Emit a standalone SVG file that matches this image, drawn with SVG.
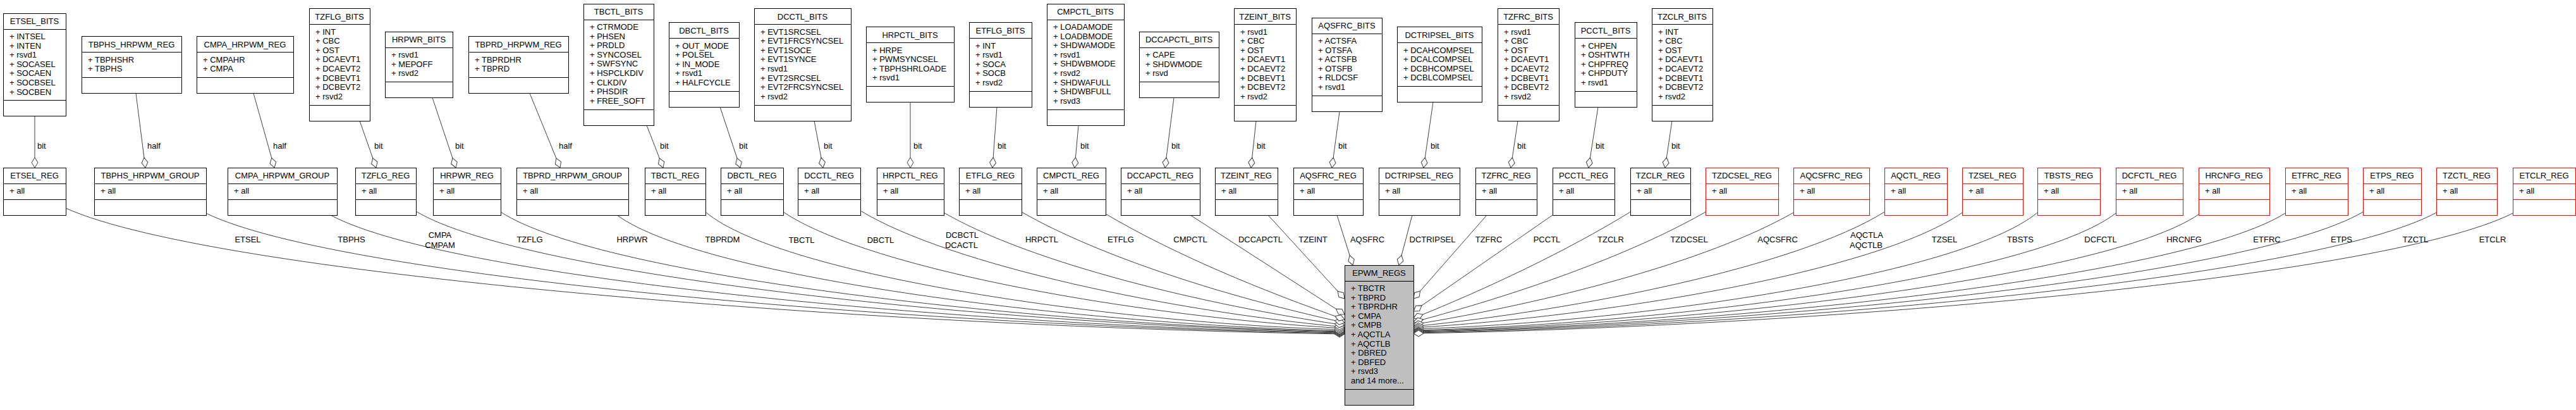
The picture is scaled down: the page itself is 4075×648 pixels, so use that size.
<svg xmlns="http://www.w3.org/2000/svg" width="4075" height="648" viewBox="0 0 4075 648">
<style>
text{font-family:"Liberation Sans",Arial,Helvetica,sans-serif;font-size:13px;fill:#000}
.c{text-anchor:middle}
.b{fill:#fff;stroke:#000;stroke-width:1;shape-rendering:crispEdges}
.r{fill:#fff;stroke:#f00;stroke-width:1;shape-rendering:crispEdges}
.m{fill:#bfbfbf;stroke:#000;stroke-width:1;shape-rendering:crispEdges}
.s{fill:none;stroke:#000;stroke-width:1;shape-rendering:crispEdges}
.sr{fill:none;stroke:#f00;stroke-width:1;shape-rendering:crispEdges}
.e{fill:none;stroke:#404040;stroke-width:1;marker-end:url(#d)}
</style>
<defs>
<marker id="d" markerUnits="userSpaceOnUse" orient="auto" refX="0" refY="0" markerWidth="18" markerHeight="12" overflow="visible">
<path d="M0,0 L-8,-5 L-16,0 L-8,5 Z" fill="#fff" stroke="#404040" stroke-width="1"/>
</marker>
</defs>
<rect width="4075" height="648" fill="#fff"/>

<g id="connectors">
<path class="e" d="M55,183.5 L55,265"/>
<path class="e" d="M215,147.5 L230,265"/>
<path class="e" d="M401,147.5 L434,265"/>
<path class="e" d="M569,191 L595,265"/>
<path class="e" d="M684,154.5 L721,265"/>
<path class="e" d="M838,147.5 L886,265"/>
<path class="e" d="M1023,198 L1049,265"/>
<path class="e" d="M1139,169 L1171,265"/>
<path class="e" d="M1288,191 L1302,265"/>
<path class="e" d="M1440,161.5 L1440,265"/>
<path class="e" d="M1577,169 L1570,265"/>
<path class="e" d="M1706,198 L1700,265"/>
<path class="e" d="M1857,154.5 L1843,265"/>
<path class="e" d="M1987,191 L1979,265"/>
<path class="e" d="M2119,176.5 L2107,265"/>
<path class="e" d="M2267,161.5 L2252,265"/>
<path class="e" d="M2401,191 L2390,265"/>
<path class="e" d="M2528,169 L2513,265"/>
<path class="e" d="M2645,191 L2634,265"/>

<path class="e" d="M104,329 C347,438 1419,518 2127,528"/>
<path class="e" d="M326,337 C542,442 1497,517 2127,527"/>
<path class="e" d="M523,340 C715,443 1566,517 2127,526"/>
<path class="e" d="M658,334 C834,439 1613,515 2127,525"/>
<path class="e" d="M792,335 C952,439 1660,515 2127,524"/>
<path class="e" d="M976,340 C1114,441 1724,514 2127,523"/>
<path class="e" d="M1116,335 C1237,437 1773,512 2127,521"/>
<path class="e" d="M1239,335 C1378,428 1816,502 2127,519"/>
<path class="e" d="M1361,333 C1505,420 1859,493 2127,517"/>
<path class="e" d="M1493,336 C1631,416 1905,482 2127,514"/>
<path class="e" d="M1616,335 C1744,408 1948,471 2127,510"/>
<path class="e" d="M1749,338 C1857,402 1998,460 2127,505"/>
<path class="e" d="M1883,340 L2127,497"/>
<path class="e" d="M2006,340 L2127,472"/>
<path class="e" d="M2115,340 L2140,419"/>
<path class="e" d="M2234,340 L2213,419"/>
<path class="e" d="M2352,340 L2236,472"/>
<path class="e" d="M2456,340 L2236,492"/>
<path class="e" d="M2579,335 C2478,397 2353,456 2236,503"/>
<path class="e" d="M2698,335 C2576,405 2395,467 2236,509"/>
<path class="e" d="M2837,336 C2701,414 2446,479 2236,513"/>
<path class="e" d="M2981,335 C2841,422 2497,490 2236,516"/>
<path class="e" d="M3104,336 C2969,430 2540,500 2236,518"/>
<path class="e" d="M3223,336 C3101,436 2581,510 2236,520"/>
<path class="e" d="M3347,337 C3214,439 2625,513 2236,522"/>
<path class="e" d="M3478,339 C3329,440 2671,514 2236,523"/>
<path class="e" d="M3615,337 C3450,440 2719,515 2236,524"/>
<path class="e" d="M3738,335 C3558,440 2762,515 2236,525"/>
<path class="e" d="M3854,336 C3660,441 2802,516 2236,526"/>
<path class="e" d="M3975,337 C3766,442 2845,517 2236,527"/>

<g id="bit-labels">
<text x="59" y="234.5">bit</text>
<text x="233" y="234.5">half</text>
<text x="432" y="234.5">half</text>
<text x="592" y="234.5">bit</text>
<text x="720" y="234.5">bit</text>
<text x="884" y="234.5">half</text>
<text x="1044" y="234.5">bit</text>
<text x="1169" y="234.5">bit</text>
<text x="1303" y="234.5">bit</text>
<text x="1445" y="234.5">bit</text>
<text x="1578" y="234.5">bit</text>
<text x="1709" y="234.5">bit</text>
<text x="1853" y="234.5">bit</text>
<text x="1988" y="234.5">bit</text>
<text x="2117" y="234.5">bit</text>
<text x="2263" y="234.5">bit</text>
<text x="2400" y="234.5">bit</text>
<text x="2524" y="234.5">bit</text>
<text x="2644" y="234.5">bit</text>
</g>
<g id="member-labels">
<text class="c" x="392" y="383">ETSEL</text>
<text class="c" x="556" y="383">TBPHS</text>
<text class="c" x="696" y="376">CMPA</text>
<text class="c" x="696" y="392">CMPAM</text>
<text class="c" x="838" y="383">TZFLG</text>
<text class="c" x="1000" y="383">HRPWR</text>
<text class="c" x="1143" y="383">TBPRDM</text>
<text class="c" x="1268" y="384">TBCTL</text>
<text class="c" x="1393" y="384">DBCTL</text>
<text class="c" x="1522" y="376">DCBCTL</text>
<text class="c" x="1521" y="392">DCACTL</text>
<text class="c" x="1648" y="383">HRPCTL</text>
<text class="c" x="1773" y="383">ETFLG</text>
<text class="c" x="1883" y="383">CMPCTL</text>
<text class="c" x="1994" y="383">DCCAPCTL</text>
<text class="c" x="2077" y="383">TZEINT</text>
<text class="c" x="2163" y="383">AQSFRC</text>
<text class="c" x="2266" y="383">DCTRIPSEL</text>
<text class="c" x="2355" y="383">TZFRC</text>
<text class="c" x="2447" y="383">PCCTL</text>
<text class="c" x="2548" y="383">TZCLR</text>
<text class="c" x="2672" y="383">TZDCSEL</text>
<text class="c" x="2812" y="383">AQCSFRC</text>
<text class="c" x="2953" y="376">AQCTLA</text>
<text class="c" x="2952" y="392">AQCTLB</text>
<text class="c" x="3076" y="383">TZSEL</text>
<text class="c" x="3196" y="383">TBSTS</text>
<text class="c" x="3323" y="383">DCFCTL</text>
<text class="c" x="3455" y="383">HRCNFG</text>
<text class="c" x="3586" y="383">ETFRC</text>
<text class="c" x="3704" y="383">ETPS</text>
<text class="c" x="3821" y="383">TZCTL</text>
<text class="c" x="3943" y="383">ETCLR</text>
</g>
</g>

<g id="ETSEL_BITS"><rect class="b" x="5" y="21" width="99" height="162.5"/><path class="s" d="M5,46H104M5,158.5H104"/><text class="c" x="54.5" y="38">ETSEL_BITS</text><text x="15" y="62"><tspan x="15">+ INTSEL</tspan><tspan x="15" dy="14.6">+ INTEN</tspan><tspan x="15" dy="14.6">+ rsvd1</tspan><tspan x="15" dy="14.6">+ SOCASEL</tspan><tspan x="15" dy="14.6">+ SOCAEN</tspan><tspan x="15" dy="14.6">+ SOCBSEL</tspan><tspan x="15" dy="14.6">+ SOCBEN</tspan></text></g>
<g id="TBPHS_HRPWM_REG"><rect class="b" x="129" y="57.5" width="158" height="90"/><path class="s" d="M129,82.5H287M129,122.5H287"/><text class="c" x="208" y="74.5">TBPHS_HRPWM_REG</text><text x="139" y="98.5"><tspan x="139">+ TBPHSHR</tspan><tspan x="139" dy="14.6">+ TBPHS</tspan></text></g>
<g id="CMPA_HRPWM_REG"><rect class="b" x="311" y="57.5" width="153" height="90"/><path class="s" d="M311,82.5H464M311,122.5H464"/><text class="c" x="387.5" y="74.5">CMPA_HRPWM_REG</text><text x="321" y="98.5"><tspan x="321">+ CMPAHR</tspan><tspan x="321" dy="14.6">+ CMPA</tspan></text></g>
<g id="TZFLG_BITS"><rect class="b" x="489" y="13.5" width="96" height="177.5"/><path class="s" d="M489,38.5H585M489,166H585"/><text class="c" x="537" y="30.5">TZFLG_BITS</text><text x="499" y="54.5"><tspan x="499">+ INT</tspan><tspan x="499" dy="14.6">+ CBC</tspan><tspan x="499" dy="14.6">+ OST</tspan><tspan x="499" dy="14.6">+ DCAEVT1</tspan><tspan x="499" dy="14.6">+ DCAEVT2</tspan><tspan x="499" dy="14.6">+ DCBEVT1</tspan><tspan x="499" dy="14.6">+ DCBEVT2</tspan><tspan x="499" dy="14.6">+ rsvd2</tspan></text></g>
<g id="HRPWR_BITS"><rect class="b" x="609" y="50" width="107" height="104.5"/><path class="s" d="M609,75H716M609,129.5H716"/><text class="c" x="662.5" y="67">HRPWR_BITS</text><text x="619" y="91"><tspan x="619">+ rsvd1</tspan><tspan x="619" dy="14.6">+ MEPOFF</tspan><tspan x="619" dy="14.6">+ rsvd2</tspan></text></g>
<g id="TBPRD_HRPWM_REG"><rect class="b" x="741" y="57.5" width="158" height="90"/><path class="s" d="M741,82.5H899M741,122.5H899"/><text class="c" x="820" y="74.5">TBPRD_HRPWM_REG</text><text x="751" y="98.5"><tspan x="751">+ TBPRDHR</tspan><tspan x="751" dy="14.6">+ TBPRD</tspan></text></g>
<g id="TBCTL_BITS"><rect class="b" x="923" y="6" width="111" height="192"/><path class="s" d="M923,31H1034M923,173H1034"/><text class="c" x="978.5" y="23">TBCTL_BITS</text><text x="933" y="47"><tspan x="933">+ CTRMODE</tspan><tspan x="933" dy="14.6">+ PHSEN</tspan><tspan x="933" dy="14.6">+ PRDLD</tspan><tspan x="933" dy="14.6">+ SYNCOSEL</tspan><tspan x="933" dy="14.6">+ SWFSYNC</tspan><tspan x="933" dy="14.6">+ HSPCLKDIV</tspan><tspan x="933" dy="14.6">+ CLKDIV</tspan><tspan x="933" dy="14.6">+ PHSDIR</tspan><tspan x="933" dy="14.6">+ FREE_SOFT</tspan></text></g>
<g id="DBCTL_BITS"><rect class="b" x="1058" y="35.5" width="111" height="133.5"/><path class="s" d="M1058,60.5H1169M1058,144H1169"/><text class="c" x="1113.5" y="52.5">DBCTL_BITS</text><text x="1068" y="76.5"><tspan x="1068">+ OUT_MODE</tspan><tspan x="1068" dy="14.6">+ POLSEL</tspan><tspan x="1068" dy="14.6">+ IN_MODE</tspan><tspan x="1068" dy="14.6">+ rsvd1</tspan><tspan x="1068" dy="14.6">+ HALFCYCLE</tspan></text></g>
<g id="DCCTL_BITS"><rect class="b" x="1193" y="13.5" width="153" height="177.5"/><path class="s" d="M1193,38.5H1346M1193,166H1346"/><text class="c" x="1269.5" y="30.5">DCCTL_BITS</text><text x="1203" y="54.5"><tspan x="1203">+ EVT1SRCSEL</tspan><tspan x="1203" dy="14.6">+ EVT1FRCSYNCSEL</tspan><tspan x="1203" dy="14.6">+ EVT1SOCE</tspan><tspan x="1203" dy="14.6">+ EVT1SYNCE</tspan><tspan x="1203" dy="14.6">+ rsvd1</tspan><tspan x="1203" dy="14.6">+ EVT2SRCSEL</tspan><tspan x="1203" dy="14.6">+ EVT2FRCSYNCSEL</tspan><tspan x="1203" dy="14.6">+ rsvd2</tspan></text></g>
<g id="HRPCTL_BITS"><rect class="b" x="1370" y="42.5" width="139" height="119"/><path class="s" d="M1370,67.5H1509M1370,136.5H1509"/><text class="c" x="1439.5" y="59.5">HRPCTL_BITS</text><text x="1380" y="83.5"><tspan x="1380">+ HRPE</tspan><tspan x="1380" dy="14.6">+ PWMSYNCSEL</tspan><tspan x="1380" dy="14.6">+ TBPHSHRLOADE</tspan><tspan x="1380" dy="14.6">+ rsvd1</tspan></text></g>
<g id="ETFLG_BITS"><rect class="b" x="1533" y="35.5" width="99" height="133.5"/><path class="s" d="M1533,60.5H1632M1533,144H1632"/><text class="c" x="1582.5" y="52.5">ETFLG_BITS</text><text x="1543" y="76.5"><tspan x="1543">+ INT</tspan><tspan x="1543" dy="14.6">+ rsvd1</tspan><tspan x="1543" dy="14.6">+ SOCA</tspan><tspan x="1543" dy="14.6">+ SOCB</tspan><tspan x="1543" dy="14.6">+ rsvd2</tspan></text></g>
<g id="CMPCTL_BITS"><rect class="b" x="1656" y="6" width="122" height="192"/><path class="s" d="M1656,31H1778M1656,173H1778"/><text class="c" x="1717" y="23">CMPCTL_BITS</text><text x="1666" y="47"><tspan x="1666">+ LOADAMODE</tspan><tspan x="1666" dy="14.6">+ LOADBMODE</tspan><tspan x="1666" dy="14.6">+ SHDWAMODE</tspan><tspan x="1666" dy="14.6">+ rsvd1</tspan><tspan x="1666" dy="14.6">+ SHDWBMODE</tspan><tspan x="1666" dy="14.6">+ rsvd2</tspan><tspan x="1666" dy="14.6">+ SHDWAFULL</tspan><tspan x="1666" dy="14.6">+ SHDWBFULL</tspan><tspan x="1666" dy="14.6">+ rsvd3</tspan></text></g>
<g id="DCCAPCTL_BITS"><rect class="b" x="1802" y="50" width="126" height="104.5"/><path class="s" d="M1802,75H1928M1802,129.5H1928"/><text class="c" x="1865" y="67">DCCAPCTL_BITS</text><text x="1812" y="91"><tspan x="1812">+ CAPE</tspan><tspan x="1812" dy="14.6">+ SHDWMODE</tspan><tspan x="1812" dy="14.6">+ rsvd</tspan></text></g>
<g id="TZEINT_BITS"><rect class="b" x="1952" y="13.5" width="98" height="177.5"/><path class="s" d="M1952,38.5H2050M1952,166H2050"/><text class="c" x="2001" y="30.5">TZEINT_BITS</text><text x="1962" y="54.5"><tspan x="1962">+ rsvd1</tspan><tspan x="1962" dy="14.6">+ CBC</tspan><tspan x="1962" dy="14.6">+ OST</tspan><tspan x="1962" dy="14.6">+ DCAEVT1</tspan><tspan x="1962" dy="14.6">+ DCAEVT2</tspan><tspan x="1962" dy="14.6">+ DCBEVT1</tspan><tspan x="1962" dy="14.6">+ DCBEVT2</tspan><tspan x="1962" dy="14.6">+ rsvd2</tspan></text></g>
<g id="AQSFRC_BITS"><rect class="b" x="2075" y="28" width="111" height="148.5"/><path class="s" d="M2075,53H2186M2075,151.5H2186"/><text class="c" x="2130.5" y="45">AQSFRC_BITS</text><text x="2085" y="69"><tspan x="2085">+ ACTSFA</tspan><tspan x="2085" dy="14.6">+ OTSFA</tspan><tspan x="2085" dy="14.6">+ ACTSFB</tspan><tspan x="2085" dy="14.6">+ OTSFB</tspan><tspan x="2085" dy="14.6">+ RLDCSF</tspan><tspan x="2085" dy="14.6">+ rsvd1</tspan></text></g>
<g id="DCTRIPSEL_BITS"><rect class="b" x="2210" y="42.5" width="134" height="119"/><path class="s" d="M2210,67.5H2344M2210,136.5H2344"/><text class="c" x="2277" y="59.5">DCTRIPSEL_BITS</text><text x="2220" y="83.5"><tspan x="2220">+ DCAHCOMPSEL</tspan><tspan x="2220" dy="14.6">+ DCALCOMPSEL</tspan><tspan x="2220" dy="14.6">+ DCBHCOMPSEL</tspan><tspan x="2220" dy="14.6">+ DCBLCOMPSEL</tspan></text></g>
<g id="TZFRC_BITS"><rect class="b" x="2369" y="13.5" width="97" height="177.5"/><path class="s" d="M2369,38.5H2466M2369,166H2466"/><text class="c" x="2417.5" y="30.5">TZFRC_BITS</text><text x="2379" y="54.5"><tspan x="2379">+ rsvd1</tspan><tspan x="2379" dy="14.6">+ CBC</tspan><tspan x="2379" dy="14.6">+ OST</tspan><tspan x="2379" dy="14.6">+ DCAEVT1</tspan><tspan x="2379" dy="14.6">+ DCAEVT2</tspan><tspan x="2379" dy="14.6">+ DCBEVT1</tspan><tspan x="2379" dy="14.6">+ DCBEVT2</tspan><tspan x="2379" dy="14.6">+ rsvd2</tspan></text></g>
<g id="PCCTL_BITS"><rect class="b" x="2491" y="35.5" width="98" height="133.5"/><path class="s" d="M2491,60.5H2589M2491,144H2589"/><text class="c" x="2540" y="52.5">PCCTL_BITS</text><text x="2501" y="76.5"><tspan x="2501">+ CHPEN</tspan><tspan x="2501" dy="14.6">+ OSHTWTH</tspan><tspan x="2501" dy="14.6">+ CHPFREQ</tspan><tspan x="2501" dy="14.6">+ CHPDUTY</tspan><tspan x="2501" dy="14.6">+ rsvd1</tspan></text></g>
<g id="TZCLR_BITS"><rect class="b" x="2613" y="13.5" width="96" height="177.5"/><path class="s" d="M2613,38.5H2709M2613,166H2709"/><text class="c" x="2661" y="30.5">TZCLR_BITS</text><text x="2623" y="54.5"><tspan x="2623">+ INT</tspan><tspan x="2623" dy="14.6">+ CBC</tspan><tspan x="2623" dy="14.6">+ OST</tspan><tspan x="2623" dy="14.6">+ DCAEVT1</tspan><tspan x="2623" dy="14.6">+ DCAEVT2</tspan><tspan x="2623" dy="14.6">+ DCBEVT1</tspan><tspan x="2623" dy="14.6">+ DCBEVT2</tspan><tspan x="2623" dy="14.6">+ rsvd2</tspan></text></g>

<g id="ETSEL_REG"><rect class="b" x="5" y="265" width="99" height="75"/><path class="s" d="M5,290H104M5,315H104"/><text class="c" x="54.5" y="282">ETSEL_REG</text><text x="15" y="306">+ all</text></g>
<g id="TBPHS_HRPWM_GROUP"><rect class="b" x="149" y="265" width="177" height="75"/><path class="s" d="M149,290H326M149,315H326"/><text class="c" x="237.5" y="282">TBPHS_HRPWM_GROUP</text><text x="159" y="306">+ all</text></g>
<g id="CMPA_HRPWM_GROUP"><rect class="b" x="360" y="265" width="173" height="75"/><path class="s" d="M360,290H533M360,315H533"/><text class="c" x="446.5" y="282">CMPA_HRPWM_GROUP</text><text x="370" y="306">+ all</text></g>
<g id="TZFLG_REG"><rect class="b" x="562" y="265" width="96" height="75"/><path class="s" d="M562,290H658M562,315H658"/><text class="c" x="610" y="282">TZFLG_REG</text><text x="572" y="306">+ all</text></g>
<g id="HRPWR_REG"><rect class="b" x="685" y="265" width="107" height="75"/><path class="s" d="M685,290H792M685,315H792"/><text class="c" x="738.5" y="282">HRPWR_REG</text><text x="695" y="306">+ all</text></g>
<g id="TBPRD_HRPWM_GROUP"><rect class="b" x="817" y="265" width="177" height="75"/><path class="s" d="M817,290H994M817,315H994"/><text class="c" x="905.5" y="282">TBPRD_HRPWM_GROUP</text><text x="827" y="306">+ all</text></g>
<g id="TBCTL_REG"><rect class="b" x="1020" y="265" width="96" height="75"/><path class="s" d="M1020,290H1116M1020,315H1116"/><text class="c" x="1068" y="282">TBCTL_REG</text><text x="1030" y="306">+ all</text></g>
<g id="DBCTL_REG"><rect class="b" x="1140" y="265" width="99" height="75"/><path class="s" d="M1140,290H1239M1140,315H1239"/><text class="c" x="1189.5" y="282">DBCTL_REG</text><text x="1150" y="306">+ all</text></g>
<g id="DCCTL_REG"><rect class="b" x="1262" y="265" width="99" height="75"/><path class="s" d="M1262,290H1361M1262,315H1361"/><text class="c" x="1311.5" y="282">DCCTL_REG</text><text x="1272" y="306">+ all</text></g>
<g id="HRPCTL_REG"><rect class="b" x="1387" y="265" width="106" height="75"/><path class="s" d="M1387,290H1493M1387,315H1493"/><text class="c" x="1440" y="282">HRPCTL_REG</text><text x="1397" y="306">+ all</text></g>
<g id="ETFLG_REG"><rect class="b" x="1517" y="265" width="99" height="75"/><path class="s" d="M1517,290H1616M1517,315H1616"/><text class="c" x="1566.5" y="282">ETFLG_REG</text><text x="1527" y="306">+ all</text></g>
<g id="CMPCTL_REG"><rect class="b" x="1640" y="265" width="109" height="75"/><path class="s" d="M1640,290H1749M1640,315H1749"/><text class="c" x="1694.5" y="282">CMPCTL_REG</text><text x="1650" y="306">+ all</text></g>
<g id="DCCAPCTL_REG"><rect class="b" x="1773" y="265" width="125" height="75"/><path class="s" d="M1773,290H1898M1773,315H1898"/><text class="c" x="1835.5" y="282">DCCAPCTL_REG</text><text x="1783" y="306">+ all</text></g>
<g id="TZEINT_REG"><rect class="b" x="1922" y="265" width="99" height="75"/><path class="s" d="M1922,290H2021M1922,315H2021"/><text class="c" x="1971.5" y="282">TZEINT_REG</text><text x="1932" y="306">+ all</text></g>
<g id="AQSFRC_REG"><rect class="b" x="2046" y="265" width="110" height="75"/><path class="s" d="M2046,290H2156M2046,315H2156"/><text class="c" x="2101" y="282">AQSFRC_REG</text><text x="2056" y="306">+ all</text></g>
<g id="DCTRIPSEL_REG"><rect class="b" x="2181" y="265" width="128" height="75"/><path class="s" d="M2181,290H2309M2181,315H2309"/><text class="c" x="2245" y="282">DCTRIPSEL_REG</text><text x="2191" y="306">+ all</text></g>
<g id="TZFRC_REG"><rect class="b" x="2334" y="265" width="97" height="75"/><path class="s" d="M2334,290H2431M2334,315H2431"/><text class="c" x="2382.5" y="282">TZFRC_REG</text><text x="2344" y="306">+ all</text></g>
<g id="PCCTL_REG"><rect class="b" x="2456" y="265" width="98" height="75"/><path class="s" d="M2456,290H2554M2456,315H2554"/><text class="c" x="2505" y="282">PCCTL_REG</text><text x="2466" y="306">+ all</text></g>
<g id="TZCLR_REG"><rect class="b" x="2579" y="265" width="95" height="75"/><path class="s" d="M2579,290H2674M2579,315H2674"/><text class="c" x="2626.5" y="282">TZCLR_REG</text><text x="2589" y="306">+ all</text></g>
<g id="TZDCSEL_REG"><rect class="r" x="2698" y="265" width="115" height="75"/><path class="sr" d="M2698,290H2813M2698,315H2813"/><text class="c" x="2755.5" y="282">TZDCSEL_REG</text><text x="2708" y="306">+ all</text></g>
<g id="AQCSFRC_REG"><rect class="r" x="2837" y="265" width="120" height="75"/><path class="sr" d="M2837,290H2957M2837,315H2957"/><text class="c" x="2897" y="282">AQCSFRC_REG</text><text x="2847" y="306">+ all</text></g>
<g id="AQCTL_REG"><rect class="r" x="2981" y="265" width="99" height="75"/><path class="sr" d="M2981,290H3080M2981,315H3080"/><text class="c" x="3030.5" y="282">AQCTL_REG</text><text x="2991" y="306">+ all</text></g>
<g id="TZSEL_REG"><rect class="r" x="3104" y="265" width="96" height="75"/><path class="sr" d="M3104,290H3200M3104,315H3200"/><text class="c" x="3152" y="282">TZSEL_REG</text><text x="3114" y="306">+ all</text></g>
<g id="TBSTS_REG"><rect class="r" x="3223" y="265" width="99" height="75"/><path class="sr" d="M3223,290H3322M3223,315H3322"/><text class="c" x="3272.5" y="282">TBSTS_REG</text><text x="3233" y="306">+ all</text></g>
<g id="DCFCTL_REG"><rect class="r" x="3347" y="265" width="106" height="75"/><path class="sr" d="M3347,290H3453M3347,315H3453"/><text class="c" x="3400" y="282">DCFCTL_REG</text><text x="3357" y="306">+ all</text></g>
<g id="HRCNFG_REG"><rect class="r" x="3478" y="265" width="112" height="75"/><path class="sr" d="M3478,290H3590M3478,315H3590"/><text class="c" x="3534" y="282">HRCNFG_REG</text><text x="3488" y="306">+ all</text></g>
<g id="ETFRC_REG"><rect class="r" x="3615" y="265" width="99" height="75"/><path class="sr" d="M3615,290H3714M3615,315H3714"/><text class="c" x="3664.5" y="282">ETFRC_REG</text><text x="3625" y="306">+ all</text></g>
<g id="ETPS_REG"><rect class="r" x="3738" y="265" width="92" height="75"/><path class="sr" d="M3738,290H3830M3738,315H3830"/><text class="c" x="3784" y="282">ETPS_REG</text><text x="3748" y="306">+ all</text></g>
<g id="TZCTL_REG"><rect class="r" x="3854" y="265" width="96" height="75"/><path class="sr" d="M3854,290H3950M3854,315H3950"/><text class="c" x="3902" y="282">TZCTL_REG</text><text x="3864" y="306">+ all</text></g>
<g id="ETCLR_REG"><rect class="r" x="3975" y="265" width="99" height="75"/><path class="sr" d="M3975,290H4074M3975,315H4074"/><text class="c" x="4024.5" y="282">ETCLR_REG</text><text x="3985" y="306">+ all</text></g>

<g id="EPWM_REGS"><rect class="m" x="2127" y="419" width="109" height="221"/><path class="s" d="M2127,444H2236M2127,615H2236"/><text class="c" x="2181.5" y="436">EPWM_REGS</text><text x="2137" y="460"><tspan x="2137">+ TBCTR</tspan><tspan x="2137" dy="14.6">+ TBPRD</tspan><tspan x="2137" dy="14.6">+ TBPRDHR</tspan><tspan x="2137" dy="14.6">+ CMPA</tspan><tspan x="2137" dy="14.6">+ CMPB</tspan><tspan x="2137" dy="14.6">+ AQCTLA</tspan><tspan x="2137" dy="14.6">+ AQCTLB</tspan><tspan x="2137" dy="14.6">+ DBRED</tspan><tspan x="2137" dy="14.6">+ DBFED</tspan><tspan x="2137" dy="14.6">+ rsvd3</tspan><tspan x="2137" dy="14.6">and 14 more...</tspan></text></g>
</svg>
